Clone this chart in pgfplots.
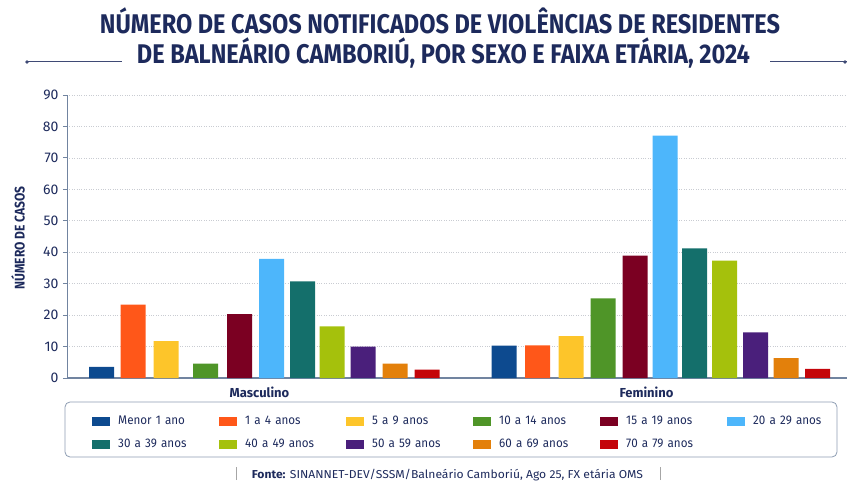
\documentclass[border=0pt]{standalone}
\usepackage{pgfplots}
\pgfplotsset{compat=1.18}
\usepackage{graphicx}
\usepackage{fontspec}
\setmainfont{Fira Sans}
\newfontfamily\condfont[FakeStretch=0.93]{Fira Sans}
\definecolor{navy}{HTML}{1D2A5C}
\definecolor{axisblue}{HTML}{7184A0}
\definecolor{gridgray}{HTML}{C9CCD2}
\definecolor{cMenor}{HTML}{0D4A8F}
\definecolor{cA}{HTML}{FF5719}
\definecolor{cB}{HTML}{FDC52A}
\definecolor{cC}{HTML}{4F9528}
\definecolor{cD}{HTML}{7B0022}
\definecolor{cE}{HTML}{4DB6FB}
\definecolor{cF}{HTML}{146F6B}
\definecolor{cG}{HTML}{A5C10C}
\definecolor{cH}{HTML}{4A1F7B}
\definecolor{cI}{HTML}{E3800B}
\definecolor{cJ}{HTML}{C4040A}
\begin{document}
\begin{tikzpicture}[x=1pt,y=1pt]
\useasboundingbox (0,0) rectangle (847,480);
% title
\node[anchor=base,text=navy,inner sep=0pt] at (440,446) {\resizebox{680pt}{\height}{\fontsize{27}{27}\selectfont\bfseries NÚMERO DE CASOS NOTIFICADOS DE VIOLÊNCIAS DE RESIDENTES}};
\node[anchor=base,text=navy,inner sep=0pt] at (443.5,416) {\resizebox{613pt}{\height}{\fontsize{27}{27}\selectfont\bfseries DE BALNEÁRIO CAMBORIÚ, POR SEXO E FAIXA ETÁRIA, 2024}};
\draw[navy!85,line width=1pt] (27,418) -- (122,418);
\fill[navy!85] (27,418) circle (1.8pt);
\draw[navy!85,line width=1pt] (770,418) -- (847,418);
\fill[navy!85] (845,418) circle (1.8pt);
\begin{axis}[
  at={(67pt,102pt)}, anchor=south west,
  width=780pt, height=283pt, scale only axis,
  xmin=67, xmax=847, ymin=0, ymax=90,
  axis lines*=left,
  x axis line style={color=axisblue,line width=1.4pt},
  y axis line style={color=axisblue,line width=0.8pt},
  ytick={0,10,...,90},
  ymajorgrids,
  grid style={dotted,color=gridgray,line width=0.7pt},
  tick align=outside,
  major tick length=4pt,
  ytick style={color=axisblue,line width=0.8pt},
  xtick={259.5,646.5},
  xticklabels={Masculino,Feminino},
  xtick style={draw=none},
  xticklabel style={font=\fontsize{13}{14}\selectfont\bfseries,text=navy,yshift=-1pt},
  yticklabel style={font=\fontsize{14}{15}\selectfont,text=navy,xshift=-1pt},
  /pgf/number format/assume math mode=true,
  ylabel={\resizebox{103pt}{\height}{\fontsize{14}{15}\selectfont\bfseries NÚMERO DE CASOS}},
  ylabel style={at={(axis description cs:-0.0628,0.495)},anchor=center,text=navy},
  legend columns=6,
  legend cell align=left,
  legend image code/.code={\fill[#1] (0pt,-4.5pt) rectangle (18pt,4.5pt);},
  legend style={draw=none,fill=none,inner sep=0pt,
    at={(axis description cs:0.0321,-0.1307)},anchor=north west,
    font=\condfont\fontsize{12.5}{13}\selectfont,text=navy,
    nodes={inner xsep=0pt,inner ysep=0pt,text width=101pt,text height=9pt,text depth=3pt},
    row sep=11pt,
    /tikz/every odd column/.append style={column sep=8pt},
    /tikz/every even column/.append style={column sep=0pt}},
]
\addplot[ybar,bar width=25pt,fill=cMenor,draw=none] coordinates {(101.5,3.5) (504,10.3)};
\addlegendentry{Menor 1 ano}
\addplot[ybar,bar width=25pt,fill=cA,draw=none] coordinates {(133,23.3) (537.5,10.4)};
\addlegendentry{1 a 4 anos}
\addplot[ybar,bar width=25pt,fill=cB,draw=none] coordinates {(166,11.7) (571,13.3)};
\addlegendentry{5 a 9 anos}
\addplot[ybar,bar width=25pt,fill=cC,draw=none] coordinates {(205.5,4.6) (603,25.3)};
\addlegendentry{10 a 14 anos}
\addplot[ybar,bar width=25pt,fill=cD,draw=none] coordinates {(239.5,20.3) (635,38.9)};
\addlegendentry{15 a 19 anos}
\addplot[ybar,bar width=25pt,fill=cE,draw=none] coordinates {(271.5,37.9) (665,77.1)};
\addlegendentry{20 a 29 anos}
\addplot[ybar,bar width=25pt,fill=cF,draw=none] coordinates {(302.5,30.7) (694.5,41.2)};
\addlegendentry{30 a 39 anos}
\addplot[ybar,bar width=25pt,fill=cG,draw=none] coordinates {(332,16.4) (724.5,37.3)};
\addlegendentry{40 a 49 anos}
\addplot[ybar,bar width=25pt,fill=cH,draw=none] coordinates {(363,10) (755.5,14.5)};
\addlegendentry{50 a 59 anos}
\addplot[ybar,bar width=25pt,fill=cI,draw=none] coordinates {(395,4.6) (786,6.3)};
\addlegendentry{60 a 69 anos}
\addplot[ybar,bar width=25pt,fill=cJ,draw=none] coordinates {(427,2.7) (817.5,2.9)};
\addlegendentry{70 a 79 anos}
\end{axis}
% legend frame
\draw[axisblue!80,line width=0.8pt,rounded corners=5pt] (65,23) rectangle (837,78);
% footer
\draw[gray!70,line width=0.7pt] (236,0) -- (236,13);
\draw[gray!70,line width=0.7pt] (660,0) -- (660,13);
\node[anchor=base,text=navy,inner sep=0pt] at (447.5,2) {\resizebox{391pt}{\height}{\fontsize{11.5}{12}\selectfont\textbf{Fonte:} SINANNET-DEV/SSSM/Balneário Camboriú, Ago 25, FX etária OMS}};
\end{tikzpicture}
\end{document}
